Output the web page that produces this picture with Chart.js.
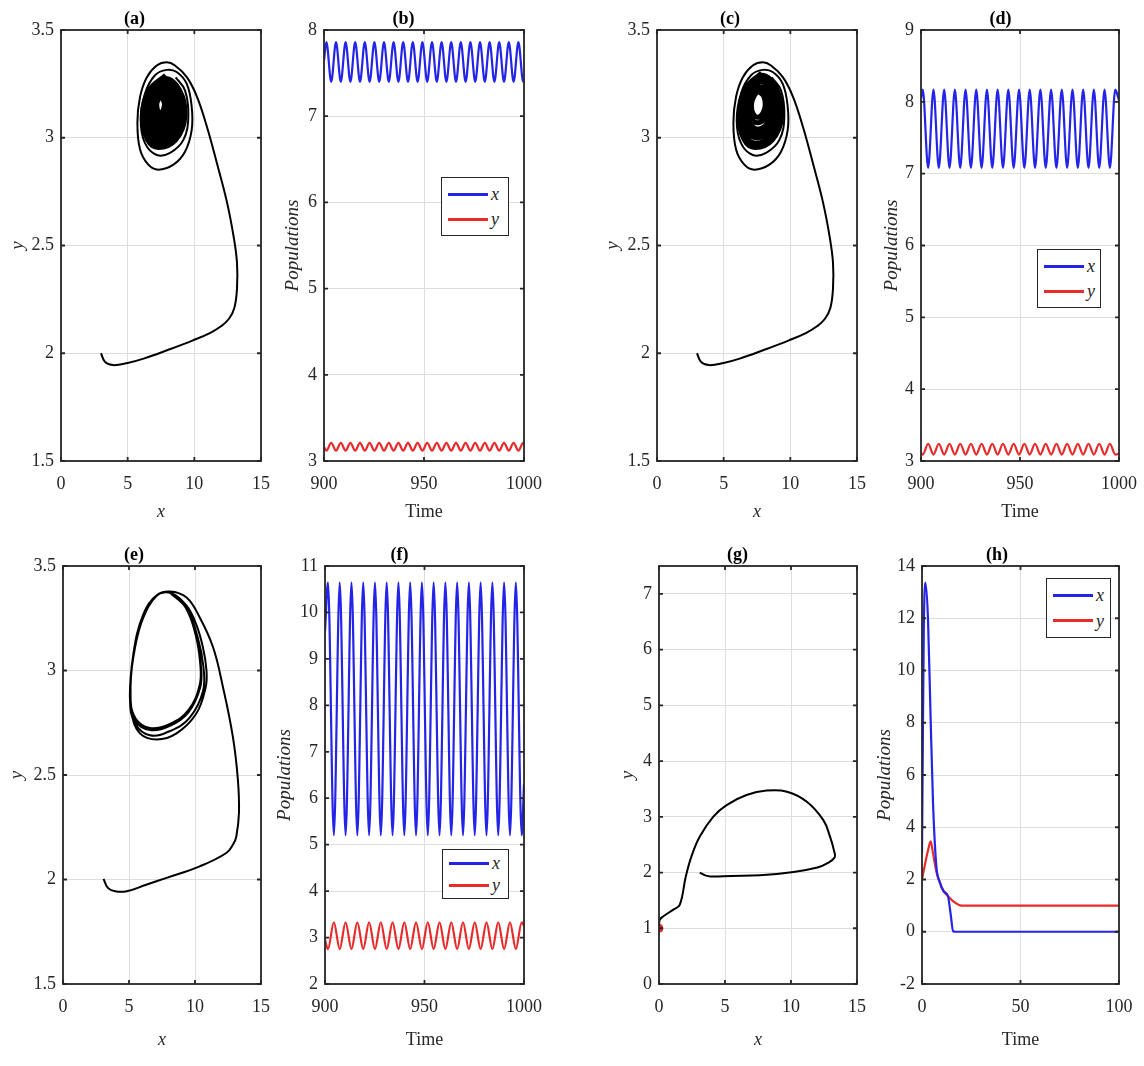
<!DOCTYPE html>
<html>
<head>
<meta charset="utf-8">
<script src="https://cdn.jsdelivr.net/npm/chart.js@4.4.1/dist/chart.umd.min.js"></script>
<style>
  body { margin: 0; background: #fff; width: 1144px; height: 1066px; position: relative; overflow: hidden; }
  canvas { position: absolute; }
  .legend { position: absolute; background: #fff; border: 1.6px solid #262626; box-sizing: border-box;
            display: flex; flex-direction: column; justify-content: space-evenly; padding: 0 3px 0 6px; }
  .legend .row { display: flex; align-items: center; }
  .legend .sw { width: 40px; height: 3px; margin-right: 3px; }
  .legend .lab { font: italic 18px 'Liberation Serif', serif; line-height: 1; color: #262626; }
</style>
</head>
<body>
<script>
// ---- data ----
// (a)/(c) transient part of the trajectory, starting from (3, 2)
const acPathX = [3.0, 3.3, 3.9, 5.0, 6.2, 8.0, 9.9, 11.2, 12.0, 12.6, 13.0, 13.2, 13.2, 12.95, 12.45, 11.7, 10.95, 10.2, 9.45, 8.55, 7.93, 7.18, 6.43, 5.93, 5.73, 5.93, 6.55, 7.3, 8.43, 9.3, 9.8, 9.8, 9.43, 8.68, 7.93, 7.05, 6.3, 5.98, 6.3, 7.18, 8.18, 9.18, 9.55, 9.3, 8.6];
const acPathY = [2.0, 1.96, 1.945, 1.955, 1.975, 2.015, 2.06, 2.095, 2.125, 2.16, 2.21, 2.3, 2.42, 2.54, 2.7, 2.88, 3.05, 3.19, 3.28, 3.335, 3.35, 3.335, 3.28, 3.19, 3.07, 2.945, 2.875, 2.852, 2.875, 2.935, 3.035, 3.145, 3.25, 3.305, 3.315, 3.29, 3.205, 3.08, 2.975, 2.92, 2.93, 2.99, 3.1, 3.22, 3.28];
// (a) dense inner spiral
const aCoreX = [7.85, 6.6, 6.1, 6.5, 7.3, 8.6, 9.3, 8.9, 7.8, 6.7, 6.25, 6.6, 7.35, 8.5, 9.1, 8.75, 7.75, 6.8, 6.4, 6.7, 7.38, 8.35, 8.9, 8.6, 7.7, 6.9, 6.55, 6.8, 7.4, 8.2, 8.7, 8.45, 7.65, 7.0, 6.7, 6.9, 7.42, 8.05, 8.5, 8.3, 7.6, 7.1, 6.85, 7.0, 7.43, 7.95, 8.3, 8.15, 7.55, 7.2, 7.0, 7.1, 7.44, 7.85, 8.1, 7.95, 7.5, 7.28, 7.12, 7.2, 7.45, 7.72, 7.9, 7.78, 7.48, 7.28, 7.18, 7.26, 7.45, 7.64, 7.76, 7.64, 7.48];
const aCoreY = [3.29, 3.22, 3.10, 2.99, 2.955, 2.99, 3.1, 3.22, 3.275, 3.215, 3.11, 3.01, 2.975, 3.01, 3.11, 3.215, 3.26, 3.21, 3.12, 3.03, 2.995, 3.03, 3.12, 3.21, 3.245, 3.2, 3.125, 3.05, 3.015, 3.05, 3.13, 3.2, 3.23, 3.195, 3.13, 3.07, 3.035, 3.07, 3.135, 3.195, 3.22, 3.19, 3.135, 3.085, 3.055, 3.085, 3.14, 3.19, 3.21, 3.185, 3.14, 3.1, 3.075, 3.1, 3.145, 3.185, 3.2, 3.18, 3.145, 3.115, 3.095, 3.115, 3.15, 3.18, 3.195, 3.175, 3.155, 3.125, 3.11, 3.125, 3.155, 3.18, 3.195];
// (c) inner spiral around a small limit cycle
const cCoreX = [7.85, 6.65, 6.15, 6.55, 7.35, 8.65, 9.35, 8.95, 7.85, 6.75, 6.3, 6.65, 7.4, 8.55, 9.15, 8.8, 7.8, 6.85, 6.45, 6.8, 7.45, 8.45, 9.0, 8.7, 7.8, 6.95, 6.6, 6.9, 7.5, 8.35, 8.85, 8.6, 7.75, 7.05, 6.75, 7.0, 7.55, 8.25, 8.7, 8.45, 7.68, 7.15, 6.92, 7.1, 7.57, 8.1, 8.4, 8.25, 7.62, 7.25, 7.08, 7.22, 7.58, 7.95, 8.12, 7.98, 7.62];
const cCoreY = [3.3, 3.23, 3.1, 2.99, 2.955, 2.99, 3.1, 3.23, 3.29, 3.225, 3.11, 3.01, 2.975, 3.01, 3.115, 3.225, 3.28, 3.22, 3.12, 3.03, 3.0, 3.03, 3.12, 3.22, 3.27, 3.215, 3.13, 3.05, 3.02, 3.05, 3.13, 3.215, 3.26, 3.21, 3.135, 3.065, 3.04, 3.065, 3.14, 3.21, 3.235, 3.2, 3.145, 3.085, 3.07, 3.09, 3.15, 3.2, 3.215, 3.19, 3.15, 3.11, 3.095, 3.115, 3.155, 3.195, 3.215];
// (e) trajectory settling on a large limit cycle
const ePathX = [3.07, 3.4, 3.95, 4.83, 6.3, 7.85, 10.36, 12.37, 12.9, 13.13, 13.33, 13.25, 12.87, 12.12, 11.37, 10.36, 9.36, 8.1, 7.1, 6.09, 5.46, 5.08, 5.2, 5.83, 7.1, 8.6, 10.1, 10.81, 10.87, 10.6, 10.1, 9.36, 8.2, 7.1, 6.09, 5.33, 5.08, 5.46, 6.59, 8.1, 9.6, 10.6, 10.64, 10.2, 9.36, 8.15, 7.1, 6.1, 5.35, 5.1, 5.45, 6.6, 8.1, 9.5, 10.4, 10.45, 10.1, 9.3, 8.15, 7.1, 6.1, 5.35, 5.12, 5.5, 6.6, 8.1, 9.5, 10.35, 10.4, 10.05, 9.3, 8.15];
const ePathY = [2.003, 1.96, 1.944, 1.944, 1.975, 2.008, 2.063, 2.127, 2.17, 2.206, 2.318, 2.476, 2.682, 2.92, 3.111, 3.254, 3.349, 3.378, 3.357, 3.254, 3.111, 2.92, 2.794, 2.699, 2.67, 2.699, 2.794, 2.92, 3.0, 3.111, 3.22, 3.31, 3.37, 3.36, 3.27, 3.08, 2.855, 2.747, 2.69, 2.71, 2.775, 2.9, 3.016, 3.16, 3.3, 3.372, 3.36, 3.27, 3.08, 2.86, 2.76, 2.715, 2.735, 2.8, 2.92, 3.02, 3.16, 3.3, 3.372, 3.36, 3.27, 3.08, 2.87, 2.77, 2.725, 2.745, 2.81, 2.93, 3.03, 3.17, 3.3, 3.37];
// (g) trajectory going to the prey-free point (0, 1)
const gPathX = [3.09, 3.5, 3.9, 5.5, 7.65, 10.2, 12.0, 12.7, 13.3, 13.25, 12.95, 12.45, 11.2, 9.7, 8.15, 6.63, 5.12, 4.1, 3.09, 2.46, 2.03, 1.57, 1.06, 0.31, 0.05, 0];
const gPathY = [2.0, 1.95, 1.93, 1.94, 1.95, 2.01, 2.09, 2.16, 2.27, 2.4, 2.65, 2.94, 3.27, 3.45, 3.47, 3.39, 3.21, 3.0, 2.645, 2.29, 1.93, 1.42, 1.33, 1.21, 1.15, 1.05];
const gEqX = [0];
const gEqY = [1];

// (b) time series, t = 900..1000
const bTime = [900, 901.2, 903.6, 906.0, 908.4, 910.8, 913.2, 915.6, 918.0, 920.4, 922.8, 925.2, 927.6, 930.0, 932.4, 934.8, 937.2, 939.6, 942.0, 944.4, 946.8, 949.2, 951.6, 954.0, 956.4, 958.8, 961.2, 963.6, 966.0, 968.4, 970.8, 973.2, 975.6, 978.0, 980.4, 982.8, 985.2, 987.6, 990.0, 992.4, 994.8, 997.2, 999.6, 1000];
const bX = [7.65, 7.86, 7.40, 7.86, 7.40, 7.86, 7.40, 7.86, 7.40, 7.86, 7.40, 7.86, 7.40, 7.86, 7.40, 7.86, 7.40, 7.86, 7.40, 7.86, 7.40, 7.86, 7.40, 7.86, 7.40, 7.86, 7.40, 7.86, 7.40, 7.86, 7.40, 7.86, 7.40, 7.86, 7.40, 7.86, 7.40, 7.86, 7.40, 7.86, 7.40, 7.86, 7.40, 7.42];
const bY = [3.16, 3.12, 3.21, 3.12, 3.21, 3.12, 3.21, 3.12, 3.21, 3.12, 3.21, 3.12, 3.21, 3.12, 3.21, 3.12, 3.21, 3.12, 3.21, 3.12, 3.21, 3.12, 3.21, 3.12, 3.21, 3.12, 3.21, 3.12, 3.21, 3.12, 3.21, 3.12, 3.21, 3.12, 3.21, 3.12, 3.21, 3.12, 3.21, 3.12, 3.21, 3.12, 3.21, 3.20];
// (d)
const dTime = [900, 900.9, 903.6, 906.3, 909.0, 911.7, 914.4, 917.1, 919.8, 922.5, 925.2, 927.9, 930.6, 933.3, 936.0, 938.7, 941.4, 944.1, 946.8, 949.5, 952.2, 954.9, 957.6, 960.3, 963.0, 965.7, 968.4, 971.1, 973.8, 976.5, 979.2, 981.9, 984.6, 987.3, 990.0, 992.7, 995.4, 998.1, 1000];
const dX = [8.05, 8.17, 7.08, 8.17, 7.08, 8.17, 7.08, 8.17, 7.08, 8.17, 7.08, 8.17, 7.08, 8.17, 7.08, 8.17, 7.08, 8.17, 7.08, 8.17, 7.08, 8.17, 7.08, 8.17, 7.08, 8.17, 7.08, 8.17, 7.08, 8.17, 7.08, 8.17, 7.08, 8.17, 7.08, 8.17, 7.08, 8.17, 8.02];
const dY = [3.11, 3.09, 3.24, 3.09, 3.24, 3.09, 3.24, 3.09, 3.24, 3.09, 3.24, 3.09, 3.24, 3.09, 3.24, 3.09, 3.24, 3.09, 3.24, 3.09, 3.24, 3.09, 3.24, 3.09, 3.24, 3.09, 3.24, 3.09, 3.24, 3.09, 3.24, 3.09, 3.24, 3.09, 3.24, 3.09, 3.24, 3.09, 3.10];
// (f)
const fTime = [900, 901.5, 904.45, 907.4, 910.35, 913.3, 916.25, 919.2, 922.15, 925.1, 928.05, 931.0, 933.95, 936.9, 939.85, 942.8, 945.75, 948.7, 951.65, 954.6, 957.55, 960.5, 963.45, 966.4, 969.35, 972.3, 975.25, 978.2, 981.15, 984.1, 987.05, 990.0, 992.95, 995.9, 998.85, 1000];
const fX = [9.6, 10.65, 5.2, 10.65, 5.2, 10.65, 5.2, 10.65, 5.2, 10.65, 5.2, 10.65, 5.2, 10.65, 5.2, 10.65, 5.2, 10.65, 5.2, 10.65, 5.2, 10.65, 5.2, 10.65, 5.2, 10.65, 5.2, 10.65, 5.2, 10.65, 5.2, 10.65, 5.2, 10.65, 5.2, 6.3];
const fY = [2.95, 2.75, 3.33, 2.75, 3.33, 2.75, 3.33, 2.75, 3.33, 2.75, 3.33, 2.75, 3.33, 2.75, 3.33, 2.75, 3.33, 2.75, 3.33, 2.75, 3.33, 2.75, 3.33, 2.75, 3.33, 2.75, 3.33, 2.75, 3.33, 2.75, 3.33, 2.75, 3.33, 2.75, 3.33, 3.25];
// (h) t = 0..100
const hTimeX = [0, 0.4, 0.9, 1.7, 3.05, 4.4, 5.6, 7.3, 9.0, 11.0, 13.2, 14.5, 15.8, 17, 100];
const hX = [3.0, 7.0, 11.5, 13.36, 11.96, 8.1, 4.93, 2.5, 1.9, 1.55, 1.36, 0.7, 0.02, 0, 0];
const hTimeY = [0, 1.3, 3.0, 4.4, 5.6, 7.3, 9.0, 11.0, 13.2, 16, 20, 100];
const hY = [2.0, 2.5, 3.1, 3.46, 3.0, 2.3, 1.9, 1.55, 1.36, 1.15, 1.0, 1.0];

// tick labels
const phaseXTicks = [0, 5, 10, 15];
const phaseYTicks = [1.5, 2, 2.5, 3, 3.5];
const timeTicks = [900, 950, 1000];
const bYTicks = [3, 4, 5, 6, 7, 8];
const dYTicks = [3, 4, 5, 6, 7, 8, 9];
const fYTicks = [2, 3, 4, 5, 6, 7, 8, 9, 10, 11];
const gYTicks = [0, 1, 2, 3, 4, 5, 6, 7];
const hXTicks = [0, 50, 100];
const hYTicks = [-2, 0, 2, 4, 6, 8, 10, 12, 14];

// ---- drawing ----
const SERIF = "'Liberation Serif', 'Times New Roman', serif";
const INK = '#262626';
const BLUE = '#2424e8';
const RED = '#e82a2a';

const pts = (xs, ys) => xs.map((x, i) => ({x, y: ys[i]}));

function curve(label, xs, ys, color, width, mono) {
  const ds = {label, data: pts(xs, ys), showLine: true, borderColor: color, backgroundColor: color,
              borderWidth: width, pointRadius: 0};
  if (mono) ds.cubicInterpolationMode = 'monotone'; else ds.tension = 0.4;
  return ds;
}

// MATLAB-style box with inward tick marks
const frame = {
  id: 'frame',
  afterDatasetsDraw(chart) {
    const {ctx, chartArea: a, scales: {x, y}} = chart;
    ctx.save();
    ctx.strokeStyle = INK;
    ctx.lineWidth = 1.8;
    ctx.beginPath();
    x.ticks.forEach(t => {
      const p = x.getPixelForValue(t.value);
      ctx.moveTo(p, a.bottom); ctx.lineTo(p, a.bottom - 4);
      ctx.moveTo(p, a.top); ctx.lineTo(p, a.top + 4);
    });
    y.ticks.forEach(t => {
      const p = y.getPixelForValue(t.value);
      ctx.moveTo(a.left, p); ctx.lineTo(a.left + 4, p);
      ctx.moveTo(a.right, p); ctx.lineTo(a.right - 4, p);
    });
    ctx.stroke();
    ctx.strokeRect(a.left, a.top, a.right - a.left, a.bottom - a.top);
    ctx.restore();
  }
};

function axis(min, max, tickValues, label, italic, titleSize, tickPad, fit) {
  return {
    type: 'linear', min, max,
    afterBuildTicks: s => { s.ticks = tickValues.map(v => ({value: v})); },
    afterFit: fit,
    ticks: {font: {family: SERIF, size: 18}, color: INK, padding: tickPad, maxRotation: 0, minRotation: 0,
            autoSkip: false, callback: v => String(v)},
    grid: {color: '#dedede', lineWidth: 1, drawTicks: false},
    border: {display: false},
    title: {display: true, text: label, color: INK, padding: 0,
            font: {family: SERIF, size: titleSize, style: italic ? 'italic' : 'normal', lineHeight: 1}}
  };
}

function addLegend(chart, box) {
  const div = document.createElement('div');
  div.className = 'legend';
  Object.assign(div.style, {left: box[0] + 'px', top: box[1] + 'px', width: box[2] + 'px', height: box[3] + 'px'});
  chart.data.datasets.forEach(ds => {
    const row = document.createElement('div');
    row.className = 'row';
    const sw = document.createElement('span');
    sw.className = 'sw';
    sw.style.background = ds.borderColor;
    const lab = document.createElement('span');
    lab.className = 'lab';
    lab.textContent = ds.label;
    row.append(sw, lab);
    div.append(row);
  });
  document.body.appendChild(div);
}

function panel(p) {
  const [L, T, R, B] = p.box;
  const wy = Math.round(p.yOff + 9.5);
  const hx = p.xOff + 9;
  const cv = document.createElement('canvas');
  cv.width = wy + (R - L) + 24;
  cv.height = 25 + (B - T) + hx + 2;
  cv.style.left = (L - wy) + 'px';
  cv.style.top = (T - 25) + 'px';
  document.body.appendChild(cv);
  const chart = new Chart(cv, {
    type: 'scatter',
    data: {datasets: p.datasets},
    options: {
      responsive: false, animation: false, events: [],
      layout: {padding: {left: 0, right: 24, top: 0, bottom: 2}},
      plugins: {
        legend: {display: false},
        tooltip: {enabled: false},
        title: {display: true, text: p.title, color: '#000', padding: {top: 5, bottom: 2},
                font: {family: SERIF, size: 18, weight: 'bold', lineHeight: 1}}
      },
      scales: {
        x: axis(p.x[0], p.x[1], p.xTicks, p.xLabel, p.xLabel === 'x', 18, 12,
                s => { s.height = hx; s.paddingLeft = 0; s.paddingRight = 0; }),
        y: axis(p.y[0], p.y[1], p.yTicks, p.yLabel, true, 19, 7,
                s => { s.width = wy; s.paddingTop = 0; s.paddingBottom = 0; })
      }
    },
    plugins: [frame]
  });
  if (p.legend) addLegend(chart, p.legend);
}

panel({title: '(a)', box: [61, 30, 261, 461], yOff: 43, xOff: 51, x: [0, 15], y: [1.5, 3.5],
       xTicks: phaseXTicks, yTicks: phaseYTicks, xLabel: 'x', yLabel: 'y',
       datasets: [curve('path', acPathX, acPathY, '#000', 2), curve('core', aCoreX, aCoreY, '#000', 5)]});
panel({title: '(b)', box: [324, 30, 524, 461], yOff: 31, xOff: 51, x: [900, 1000], y: [3, 8],
       xTicks: timeTicks, yTicks: bYTicks, xLabel: 'Time', yLabel: 'Populations', legend: [441, 177, 68, 59],
       datasets: [curve('x', bTime, bX, BLUE, 2.2, true), curve('y', bTime, bY, RED, 2.2, true)]});
panel({title: '(c)', box: [657, 30, 857, 461], yOff: 44, xOff: 51, x: [0, 15], y: [1.5, 3.5],
       xTicks: phaseXTicks, yTicks: phaseYTicks, xLabel: 'x', yLabel: 'y',
       datasets: [curve('path', acPathX, acPathY, '#000', 2), curve('core', cCoreX, cCoreY, '#000', 5)]});
panel({title: '(d)', box: [921, 30, 1119, 461], yOff: 29, xOff: 51, x: [900, 1000], y: [3, 9],
       xTicks: timeTicks, yTicks: dYTicks, xLabel: 'Time', yLabel: 'Populations', legend: [1037, 249, 64, 59],
       datasets: [curve('x', dTime, dX, BLUE, 2.2, true), curve('y', dTime, dY, RED, 2.2, true)]});
panel({title: '(e)', box: [63, 566, 261, 984], yOff: 46, xOff: 56, x: [0, 15], y: [1.5, 3.5],
       xTicks: phaseXTicks, yTicks: phaseYTicks, xLabel: 'x', yLabel: 'y',
       datasets: [curve('path', ePathX, ePathY, '#000', 2)]});
panel({title: '(f)', box: [325, 566, 524, 984], yOff: 40, xOff: 56, x: [900, 1000], y: [2, 11],
       xTicks: timeTicks, yTicks: fYTicks, xLabel: 'Time', yLabel: 'Populations', legend: [442, 849, 67, 50],
       datasets: [curve('x', fTime, fX, BLUE, 2.2, true), curve('y', fTime, fY, RED, 2.2, true)]});
panel({title: '(g)', box: [659, 566, 857, 984], yOff: 31, xOff: 56, x: [0, 15], y: [0, 7.5],
       xTicks: phaseXTicks, yTicks: gYTicks, xLabel: 'x', yLabel: 'y',
       datasets: [curve('path', gPathX, gPathY, '#000', 2),
                  {label: 'equilibrium', data: pts(gEqX, gEqY), showLine: false, pointRadius: 4,
                   backgroundColor: RED, borderColor: RED}]});
panel({title: '(h)', box: [922, 566, 1119, 984], yOff: 37, xOff: 56, x: [0, 100], y: [-2, 14],
       xTicks: hXTicks, yTicks: hYTicks, xLabel: 'Time', yLabel: 'Populations', legend: [1046, 578, 65, 60],
       datasets: [curve('x', hTimeX, hX, BLUE, 2.2, true), curve('y', hTimeY, hY, RED, 2.2, true)]});
</script>
</body>
</html>
